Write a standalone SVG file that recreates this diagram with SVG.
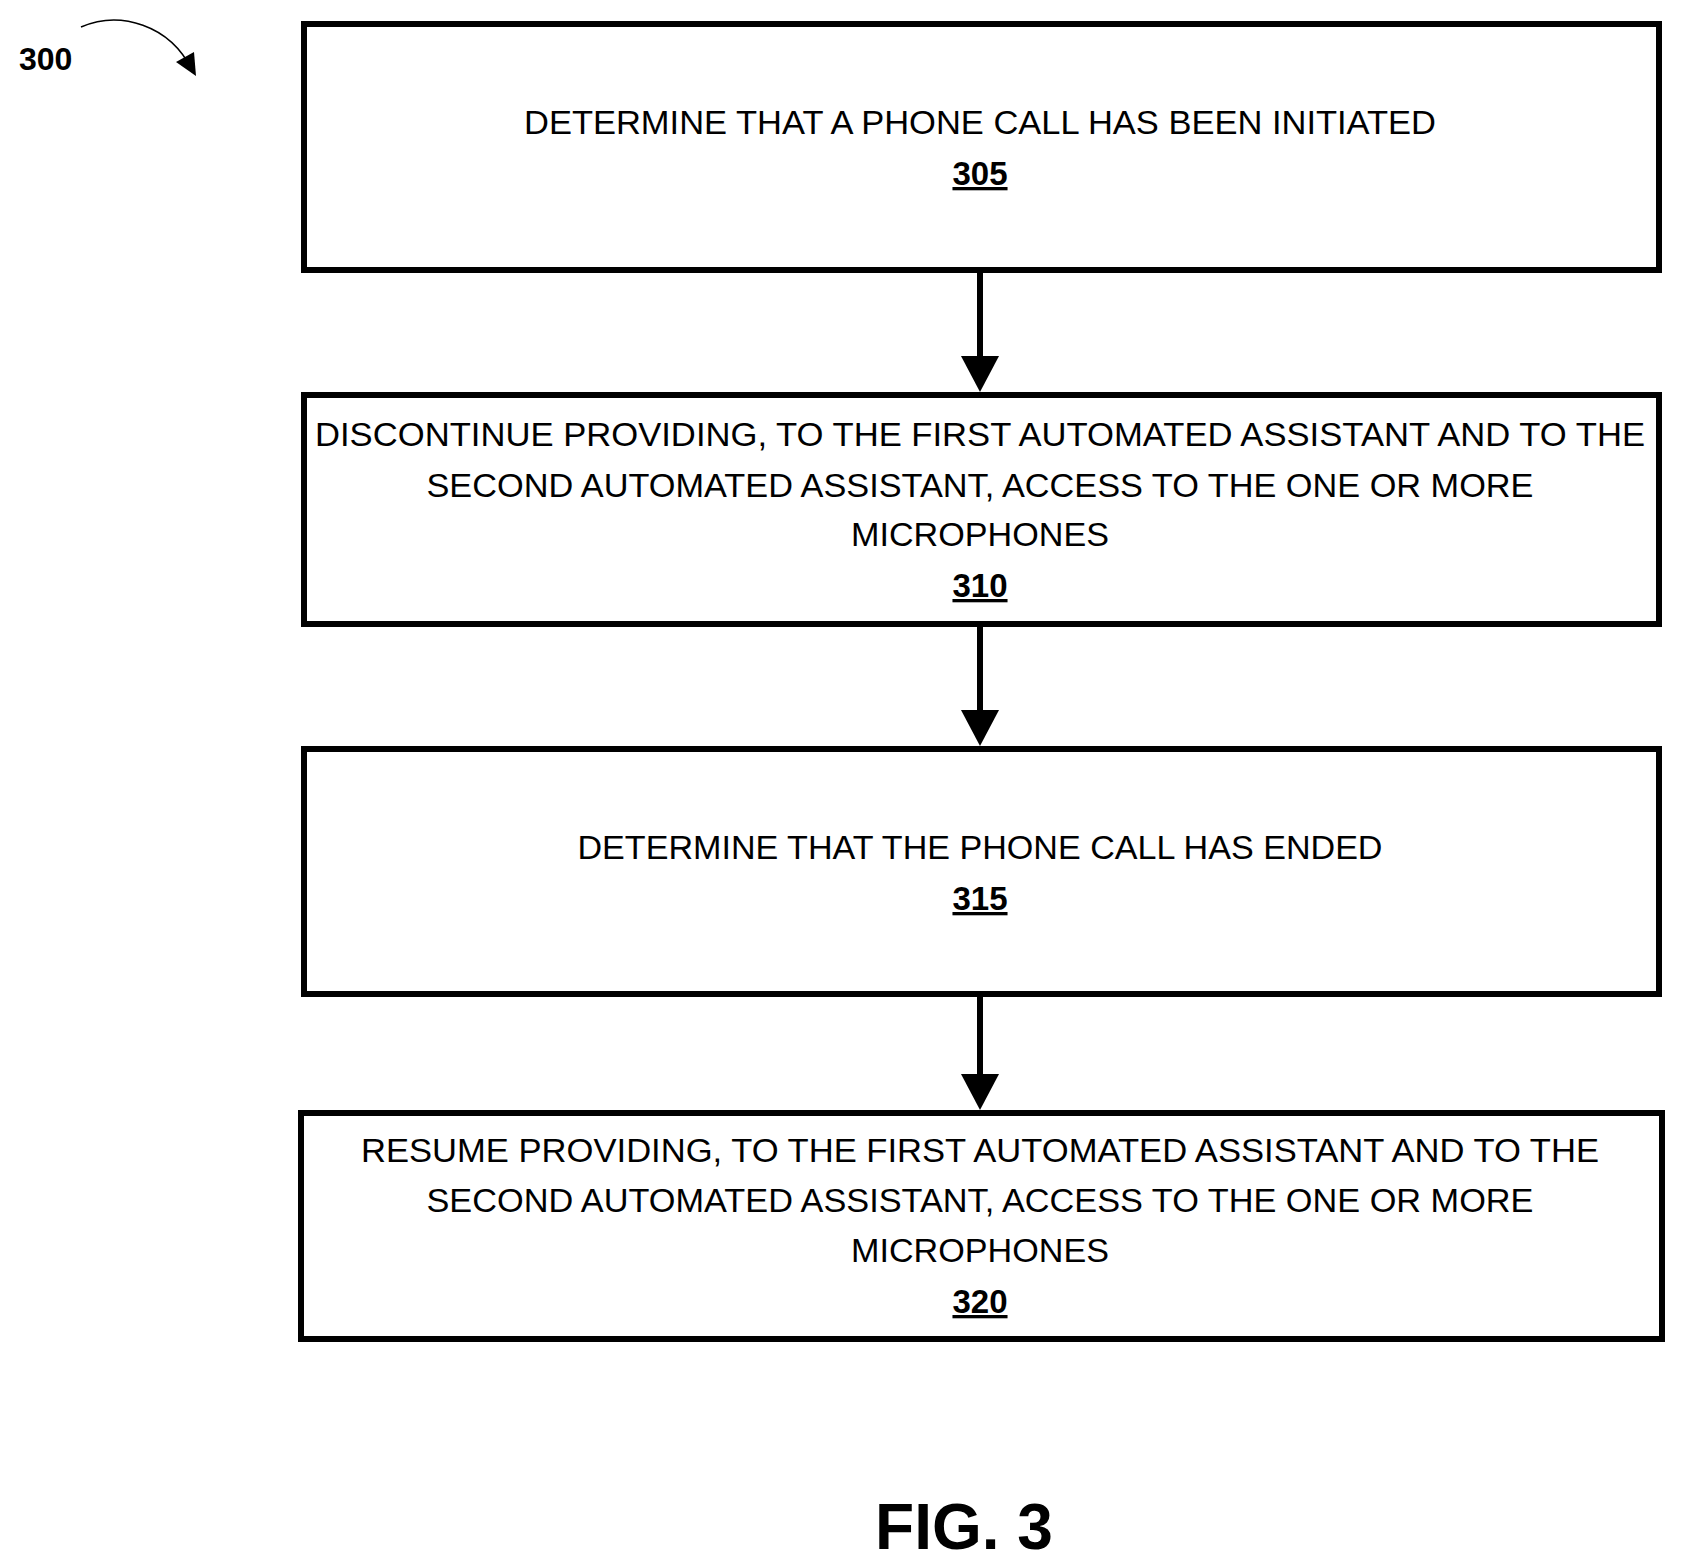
<svg xmlns="http://www.w3.org/2000/svg" width="1684" height="1563" viewBox="0 0 1684 1563">
<style>
.box{fill:#fff;stroke:#000;stroke-width:6}
.t{font-family:"Liberation Sans",Arial,sans-serif;font-size:33px;text-anchor:middle;fill:#000}
.n{font-family:"Liberation Sans",Arial,sans-serif;font-size:33px;font-weight:bold;text-anchor:middle;text-decoration:underline;fill:#000}
.c{stroke:#000;stroke-width:6;fill:none}
</style>
<rect width="1684" height="1563" fill="#fff"/>
<g id="label300">
<text x="19" y="70" font-family="Liberation Sans,Arial,sans-serif" font-size="32" font-weight="bold">300</text>
<path d="M81,27 C120,10 170,25 192,70" stroke="#000" stroke-width="1.5" fill="none"/>
<path d="M176,62 L196,76 L194,52 Z" fill="#000"/>
</g>
<g id="n305"><rect class="box" x="304" y="24" width="1355" height="246"/>
<text class="t" x="980" y="134" textLength="912" lengthAdjust="spacingAndGlyphs">DETERMINE THAT A PHONE CALL HAS BEEN INITIATED</text>
<text class="n" x="980" y="185">305</text></g>
<g id="n310"><rect class="box" x="304" y="395" width="1355" height="229"/>
<text class="t" x="980" y="446" textLength="1330" lengthAdjust="spacingAndGlyphs">DISCONTINUE PROVIDING, TO THE FIRST AUTOMATED ASSISTANT AND TO THE</text>
<text class="t" x="980" y="497" textLength="1107" lengthAdjust="spacingAndGlyphs">SECOND AUTOMATED ASSISTANT, ACCESS TO THE ONE OR MORE</text>
<text class="t" x="980" y="546" textLength="258" lengthAdjust="spacingAndGlyphs">MICROPHONES</text>
<text class="n" x="980" y="597">310</text></g>
<g id="n315"><rect class="box" x="304" y="749" width="1355" height="245"/>
<text class="t" x="980" y="859" textLength="805" lengthAdjust="spacingAndGlyphs">DETERMINE THAT THE PHONE CALL HAS ENDED</text>
<text class="n" x="980" y="910">315</text></g>
<g id="n320"><rect class="box" x="301" y="1113" width="1361" height="226"/>
<text class="t" x="980" y="1162" textLength="1238" lengthAdjust="spacingAndGlyphs">RESUME PROVIDING, TO THE FIRST AUTOMATED ASSISTANT AND TO THE</text>
<text class="t" x="980" y="1212" textLength="1107" lengthAdjust="spacingAndGlyphs">SECOND AUTOMATED ASSISTANT, ACCESS TO THE ONE OR MORE</text>
<text class="t" x="980" y="1262" textLength="258" lengthAdjust="spacingAndGlyphs">MICROPHONES</text>
<text class="n" x="980" y="1313">320</text></g>
<g id="connectors">
<line class="c" x1="980" y1="273" x2="980" y2="360"/><path d="M961,356 L999,356 L980,392 Z"/>
<line class="c" x1="980" y1="627" x2="980" y2="714"/><path d="M961,710 L999,710 L980,746 Z"/>
<line class="c" x1="980" y1="997" x2="980" y2="1078"/><path d="M961,1074 L999,1074 L980,1110 Z"/>
</g>
<text x="964" y="1549" font-family="Liberation Sans,Arial,sans-serif" font-size="64" font-weight="bold" text-anchor="middle">FIG. 3</text>
</svg>
